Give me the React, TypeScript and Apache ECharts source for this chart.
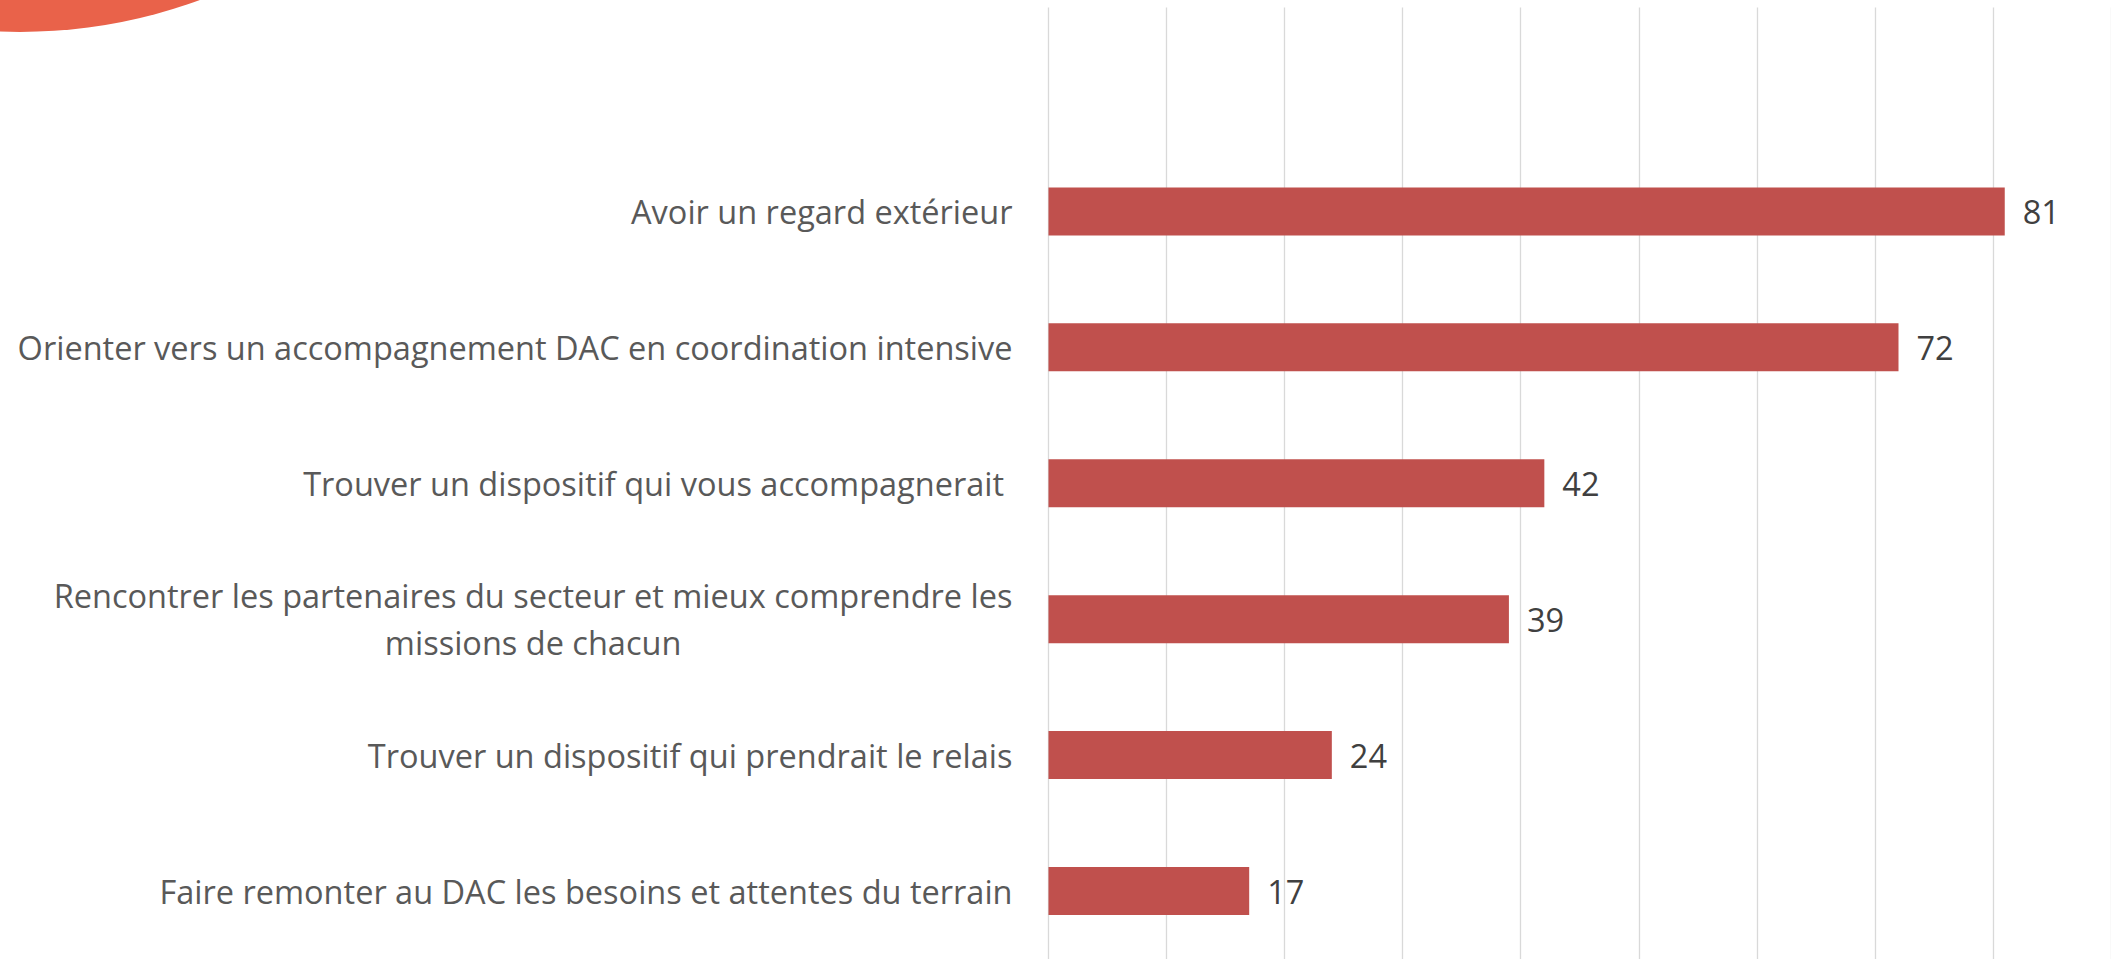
import React, { useEffect, useRef } from "react";
import * as echarts from "echarts";

const categories: string[] = [
  "Avoir un regard extérieur",
  "Orienter vers un accompagnement DAC en coordination intensive",
  "Trouver un dispositif qui vous accompagnerait ",
  "Rencontrer les partenaires du secteur et mieux comprendre les\nmissions de chacun",
  "Trouver un dispositif qui prendrait le relais",
  "Faire remonter au DAC les besoins et attentes du terrain",
];
const values: number[] = [81, 72, 42, 39, 24, 17];

const axisMin = 0;
const axisMax = 90;
const axisInterval = 10;

export default function App() {
  const ref = useRef<HTMLDivElement>(null);
  useEffect(() => {
    if (!ref.current) return;
    const chart = echarts.init(ref.current, undefined, { renderer: "svg" });
    // leading empty slot reproduces the blank band above the first bar
    const axisData = ["", ...categories];
    const seriesData: (number | null)[] = [null, ...values];
    chart.setOption({
      animation: false,
      backgroundColor: "#ffffff",
      graphic: [
        {
          type: "circle",
          shape: { cx: 20, cy: -490, r: 522 },
          style: { fill: "#E9624A" },
          z: 10,
        },
      ],
      grid: { left: 1048.5, right: -4.2, top: 7.5, bottom: -4.2, containLabel: false },
      xAxis: {
        type: "value",
        min: axisMin,
        max: axisMax,
        interval: axisInterval,
        axisLabel: { show: false },
        axisLine: { show: false },
        axisTick: { show: false },
        splitLine: { show: true, lineStyle: { color: "#D9D9D9", width: 1.3 } },
      },
      yAxis: {
        type: "category",
        inverse: true,
        data: axisData,
        axisLine: { show: false },
        axisTick: { show: false },
        splitLine: { show: false },
        axisLabel: {
          margin: 36,
          color: "#595959",
          fontFamily: "Open Sans",
          fontSize: 32.5,
          lineHeight: 47,
          formatter: (v: string) =>
            v
              .split("\n")
              .map((line) => `{c|${line}}`)
              .join("\n"),
          rich: {
            c: {
              align: "center",
              color: "#595959",
              fontFamily: "Open Sans",
              fontSize: 32.5,
              lineHeight: 47,
            },
          },
        },
      },
      series: [
        {
          type: "bar",
          data: seriesData,
          barWidth: 48,
          itemStyle: { color: "#C0504D" },
          label: {
            show: true,
            position: "right",
            distance: 18,
            color: "#404040",
            fontFamily: "Open Sans",
            fontSize: 32.5,
          },
        },
      ],
    });
    return () => chart.dispose();
  }, []);
  return (
    <div
      ref={ref}
      style={{ position: "fixed", left: 0, top: 0, width: 2111, height: 959 }}
    />
  );
}
